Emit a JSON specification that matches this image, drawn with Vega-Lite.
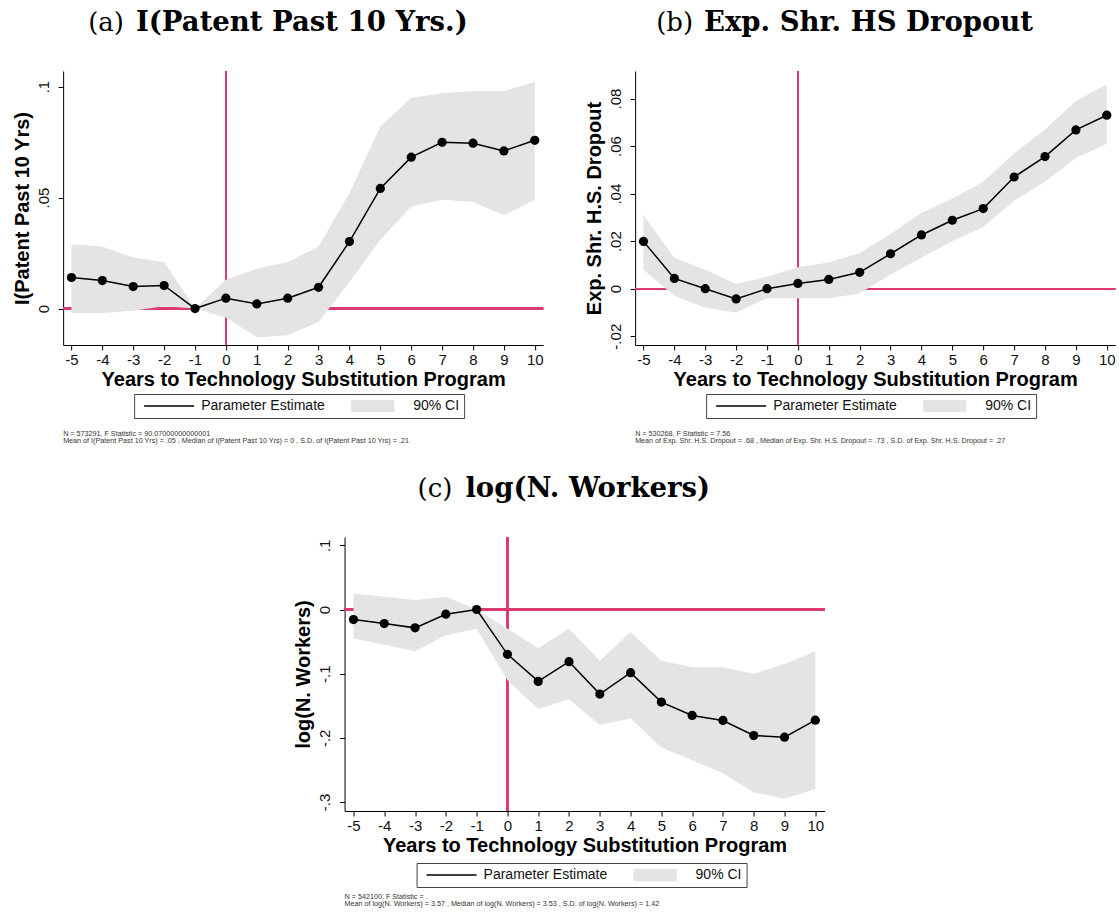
{
  "$schema": "https://vega.github.io/schema/vega-lite/v6.json",
  "padding": {"left": 12, "top": 8, "right": 0, "bottom": 0},
  "background": "white",
  "config": {
    "view": {"stroke": null},
    "font": "Liberation Sans",
    "axis": {"grid": false, "domainColor": "#000", "tickColor": "#000", "tickSize": 5, "domainWidth": 1, "tickWidth": 1, "labelFont": "Liberation Sans", "labelFontSize": 15, "labelColor": "#111", "titleFont": "Liberation Sans", "titleFontSize": 20, "titleFontWeight": "bold", "titleColor": "#000", "labelFlush": false, "labelOverlap": false},
    "axisX": {"labelPadding": 2, "titlePadding": 2, "labelAngle": 0, "tickCount": 20},
    "axisY": {"labelAngle": -90, "labelAlign": "center", "labelBaseline": "alphabetic", "labelPadding": 10, "titlePadding": 4}
  },
  "resolve": {"scale": {"color": "independent"}},
  "spacing": 29,
  "center": true,
  "vconcat": [
    {
      "resolve": {"scale": {"color": "independent"}},
      "spacing": 40,
      "hconcat": [
        {
          "resolve": {"scale": {"color": "independent"}},
          "title": {"text": "(a)", "subtitle": "\u200b\u00a0\u00a0\u00a0\u00a0\u00a0I(Patent Past 10 Yrs.)", "anchor": "start", "frame": "bounds", "align": "left", "dx": 76, "font": "DejaVu Serif", "fontSize": 26, "fontWeight": "normal", "color": "#000", "subtitleFont": "DejaVu Serif", "subtitleFontSize": 27.5, "subtitleFontWeight": "bold", "subtitleColor": "#000", "subtitlePadding": -27.2, "offset": 33},
          "vconcat": [
            {
              "width": 480, "height": 274,
              "data": {"values": [
                {"t": -5, "b": 0.014, "lo": -0.002, "hi": 0.029},
                {"t": -4, "b": 0.0126, "lo": -0.002, "hi": 0.028},
                {"t": -3, "b": 0.0099, "lo": -0.001, "hi": 0.023},
                {"t": -2, "b": 0.0104, "lo": 0.001, "hi": 0.021},
                {"t": -1, "b": 0.0, "lo": 0.0, "hi": 0.0},
                {"t": 0, "b": 0.0047, "lo": -0.004, "hi": 0.013},
                {"t": 1, "b": 0.0021, "lo": -0.013, "hi": 0.018},
                {"t": 2, "b": 0.0047, "lo": -0.012, "hi": 0.021},
                {"t": 3, "b": 0.0096, "lo": -0.006, "hi": 0.028},
                {"t": 4, "b": 0.0302, "lo": 0.012, "hi": 0.052},
                {"t": 5, "b": 0.0541, "lo": 0.031, "hi": 0.082},
                {"t": 6, "b": 0.0682, "lo": 0.046, "hi": 0.095},
                {"t": 7, "b": 0.0749, "lo": 0.049, "hi": 0.097},
                {"t": 8, "b": 0.0745, "lo": 0.048, "hi": 0.098},
                {"t": 9, "b": 0.0710, "lo": 0.042, "hi": 0.098},
                {"t": 10, "b": 0.0758, "lo": 0.049, "hi": 0.102}
              ]},
              "title": {"text": ["N = 573291, F Statistic = 90.07000000000001", "Mean of I(Patent Past 10 Yrs) = .05 , Median of I(Patent Past 10 Yrs) = 0 , S.D. of I(Patent Past 10 Yrs) = .21"], "orient": "bottom", "anchor": "start", "frame": "group", "align": "left", "font": "Liberation Sans", "fontSize": 7.2, "fontWeight": "normal", "color": "#333", "lineHeight": 7.5, "offset": 11},
              "layer": [
                {"mark": {"type": "rule", "color": "#dc3a70", "strokeWidth": 1.5}, "encoding": {"x": {"datum": 0, "type": "quantitative"}}},
                {"mark": {"type": "rule", "color": "#dc3a70", "strokeWidth": 1.5}, "encoding": {"y": {"datum": 0, "type": "quantitative"}}},
                {"mark": {"type": "area", "opacity": 1},
                 "encoding": {
                   "x": {"field": "t", "type": "quantitative", "scale": {"domain": [-5.27, 10.27], "nice": false, "zero": false}, "axis": {"title": "Years to Technology Substitution Program", "values": [-5,-4,-3,-2,-1,0,1,2,3,4,5,6,7,8,9,10], "tickCount": 20, "labelOverlap": false, "labelFlush": false, "labelExpr": "(datum.value < 0 ? '-' : '') + abs(datum.value)"}},
                   "y": {"field": "lo", "type": "quantitative", "scale": {"domain": [-0.0164, 0.107], "nice": false, "zero": false}, "axis": {"title": "I(Patent Past 10 Yrs)", "values": [0, 0.05, 0.1], "labelOverlap": false, "labelFlush": false, "labelExpr": "datum.value == 0 ? '0' : (datum.value < 0 ? '-' : '') + replace(format(abs(datum.value), '.2~f'), '0.', '.')"}},
                   "y2": {"field": "hi"},
                   "color": {"datum": "90% CI", "type": "nominal", "scale": {"domain": ["Parameter Estimate", "90% CI"], "range": ["#000000", "#e4e4e4"]}}
                 }},
                {"mark": {"type": "line", "strokeWidth": 1.5},
                 "encoding": {
                   "x": {"field": "t", "type": "quantitative"},
                   "y": {"field": "b", "type": "quantitative"},
                   "color": {"datum": "Parameter Estimate", "type": "nominal", "legend": {"orient": "none", "legendX": 71, "legendY": 323, "direction": "horizontal", "title": null, "strokeColor": "#444", "padding": 5, "columnPadding": 26, "clipHeight": 14, "labelFont": "Liberation Sans", "labelFontSize": 14, "labelColor": "#111", "labelOffset": 6, "labelLimit": 300, "symbolOffset": 4,
                     "encode": {"symbols": {"update": {"size": {"value": 2500}, "shape": {"signal": "datum.value === '90% CI' ? 'M-1.42,-0.22H0.5V0.22H-1.42Z' : 'M-1,0H1'"}, "fill": {"signal": "datum.value === '90% CI' ? '#e4e4e4' : 'transparent'"}, "stroke": {"signal": "datum.value === '90% CI' ? 'transparent' : '#000'"}, "strokeWidth": {"value": 1.5}, "opacity": {"value": 1}}}}}}
                 }},
                {"mark": {"type": "point", "filled": true, "color": "#000", "size": 85, "opacity": 1},
                 "encoding": {
                   "x": {"field": "t", "type": "quantitative"},
                   "y": {"field": "b", "type": "quantitative"}
                 }}
              ]
            }
          ]
        },
        {
          "resolve": {"scale": {"color": "independent"}},
          "title": {"text": "(b)", "subtitle": "\u200b\u00a0\u00a0\u00a0\u00a0\u00a0Exp. Shr. HS Dropout", "anchor": "start", "frame": "bounds", "align": "left", "dx": 72, "font": "DejaVu Serif", "fontSize": 26, "fontWeight": "normal", "color": "#000", "subtitleFont": "DejaVu Serif", "subtitleFontSize": 27.5, "subtitleFontWeight": "bold", "subtitleColor": "#000", "subtitlePadding": -27.2, "offset": 33},
          "vconcat": [
            {
              "width": 480, "height": 274,
              "data": {"values": [
                {"t": -5, "b": 0.0199, "lo": 0.008, "hi": 0.031},
                {"t": -4, "b": 0.0043, "lo": -0.003, "hi": 0.013},
                {"t": -3, "b": 0.0, "lo": -0.008, "hi": 0.008},
                {"t": -2, "b": -0.0043, "lo": -0.010, "hi": 0.002},
                {"t": -1, "b": 0.0, "lo": -0.004, "hi": 0.005},
                {"t": 0, "b": 0.0022, "lo": -0.004, "hi": 0.009},
                {"t": 1, "b": 0.0039, "lo": -0.004, "hi": 0.011},
                {"t": 2, "b": 0.0069, "lo": -0.002, "hi": 0.015},
                {"t": 3, "b": 0.0147, "lo": 0.006, "hi": 0.023},
                {"t": 4, "b": 0.0226, "lo": 0.013, "hi": 0.032},
                {"t": 5, "b": 0.0288, "lo": 0.020, "hi": 0.038},
                {"t": 6, "b": 0.0337, "lo": 0.026, "hi": 0.045},
                {"t": 7, "b": 0.0470, "lo": 0.037, "hi": 0.057},
                {"t": 8, "b": 0.0556, "lo": 0.045, "hi": 0.067},
                {"t": 9, "b": 0.0668, "lo": 0.055, "hi": 0.079},
                {"t": 10, "b": 0.0730, "lo": 0.061, "hi": 0.086}
              ]},
              "title": {"text": ["N = 530268, F Statistic = 7.56", "Mean of Exp. Shr. H.S. Dropout = .68 , Median of Exp. Shr. H.S. Dropout = .73 , S.D. of Exp. Shr. H.S. Dropout = .27"], "orient": "bottom", "anchor": "start", "frame": "group", "align": "left", "font": "Liberation Sans", "fontSize": 7.2, "fontWeight": "normal", "color": "#333", "lineHeight": 7.5, "offset": 11},
              "layer": [
                {"mark": {"type": "rule", "color": "#dc3a70", "strokeWidth": 1.5}, "encoding": {"x": {"datum": 0, "type": "quantitative"}}},
                {"mark": {"type": "rule", "color": "#dc3a70", "strokeWidth": 1.5}, "encoding": {"y": {"datum": 0, "type": "quantitative"}}},
                {"mark": {"type": "area", "opacity": 1},
                 "encoding": {
                   "x": {"field": "t", "type": "quantitative", "scale": {"domain": [-5.27, 10.27], "nice": false, "zero": false}, "axis": {"title": "Years to Technology Substitution Program", "values": [-5,-4,-3,-2,-1,0,1,2,3,4,5,6,7,8,9,10], "tickCount": 20, "labelOverlap": false, "labelFlush": false, "labelExpr": "(datum.value < 0 ? '-' : '') + abs(datum.value)"}},
                   "y": {"field": "lo", "type": "quantitative", "scale": {"domain": [-0.0237, 0.0916], "nice": false, "zero": false}, "axis": {"title": "Exp. Shr. H.S. Dropout", "values": [-0.02, 0, 0.02, 0.04, 0.06, 0.08], "labelOverlap": false, "labelFlush": false, "labelExpr": "datum.value == 0 ? '0' : (datum.value < 0 ? '-' : '') + replace(format(abs(datum.value), '.2~f'), '0.', '.')"}},
                   "y2": {"field": "hi"},
                   "color": {"datum": "90% CI", "type": "nominal", "scale": {"domain": ["Parameter Estimate", "90% CI"], "range": ["#000000", "#e4e4e4"]}}
                 }},
                {"mark": {"type": "line", "strokeWidth": 1.5},
                 "encoding": {
                   "x": {"field": "t", "type": "quantitative"},
                   "y": {"field": "b", "type": "quantitative"},
                   "color": {"datum": "Parameter Estimate", "type": "nominal", "legend": {"orient": "none", "legendX": 71, "legendY": 323, "direction": "horizontal", "title": null, "strokeColor": "#444", "padding": 5, "columnPadding": 26, "clipHeight": 14, "labelFont": "Liberation Sans", "labelFontSize": 14, "labelColor": "#111", "labelOffset": 6, "labelLimit": 300, "symbolOffset": 4,
                     "encode": {"symbols": {"update": {"size": {"value": 2500}, "shape": {"signal": "datum.value === '90% CI' ? 'M-1.42,-0.22H0.5V0.22H-1.42Z' : 'M-1,0H1'"}, "fill": {"signal": "datum.value === '90% CI' ? '#e4e4e4' : 'transparent'"}, "stroke": {"signal": "datum.value === '90% CI' ? 'transparent' : '#000'"}, "strokeWidth": {"value": 1.5}, "opacity": {"value": 1}}}}}}
                 }},
                {"mark": {"type": "point", "filled": true, "color": "#000", "size": 85, "opacity": 1},
                 "encoding": {
                   "x": {"field": "t", "type": "quantitative"},
                   "y": {"field": "b", "type": "quantitative"}
                 }}
              ]
            }
          ]
        }
      ]
    },
    {
      "resolve": {"scale": {"color": "independent"}},
      "title": {"text": "(c)", "subtitle": "\u200b\u00a0\u00a0\u00a0\u00a0\u00a0log(N. Workers)\u00a0\u00a0\u00a0\u00a0\u00a0\u00a0\u00a0\u00a0\u00a0\u00a0\u00a0\u00a0\u00a0\u200b", "anchor": "start", "frame": "bounds", "align": "left", "dx": 124, "font": "DejaVu Serif", "fontSize": 26, "fontWeight": "normal", "color": "#000", "subtitleFont": "DejaVu Serif", "subtitleFontSize": 27.5, "subtitleFontWeight": "bold", "subtitleColor": "#000", "subtitlePadding": -27.2, "offset": 33},
      "vconcat": [
        {
          "width": 480, "height": 274,
          "data": {"values": [
            {"t": -5, "b": -0.0156, "lo": -0.045, "hi": 0.025},
            {"t": -4, "b": -0.0219, "lo": -0.055, "hi": 0.020},
            {"t": -3, "b": -0.0286, "lo": -0.065, "hi": 0.015},
            {"t": -2, "b": -0.0073, "lo": -0.040, "hi": 0.020},
            {"t": -1, "b": 0.0, "lo": -0.030, "hi": 0.0},
            {"t": 0, "b": -0.0698, "lo": -0.110, "hi": -0.030},
            {"t": 1, "b": -0.112, "lo": -0.155, "hi": -0.060},
            {"t": 2, "b": -0.0813, "lo": -0.140, "hi": -0.030},
            {"t": 3, "b": -0.1318, "lo": -0.180, "hi": -0.080},
            {"t": 4, "b": -0.0984, "lo": -0.170, "hi": -0.035},
            {"t": 5, "b": -0.1443, "lo": -0.215, "hi": -0.080},
            {"t": 6, "b": -0.1651, "lo": -0.235, "hi": -0.090},
            {"t": 7, "b": -0.1729, "lo": -0.255, "hi": -0.090},
            {"t": 8, "b": -0.1964, "lo": -0.285, "hi": -0.100},
            {"t": 9, "b": -0.1990, "lo": -0.295, "hi": -0.085},
            {"t": 10, "b": -0.1724, "lo": -0.280, "hi": -0.065}
          ]},
          "title": {"text": ["N = 542100, F Statistic = .", "Mean of log(N. Workers) = 3.57 , Median of log(N. Workers) = 3.53 , S.D. of log(N. Workers) = 1.42"], "orient": "bottom", "anchor": "start", "frame": "group", "align": "left", "font": "Liberation Sans", "fontSize": 7.2, "fontWeight": "normal", "color": "#333", "lineHeight": 7.5, "offset": 5},
          "layer": [
            {"mark": {"type": "rule", "color": "#dc3a70", "strokeWidth": 1.5}, "encoding": {"x": {"datum": 0, "type": "quantitative"}}},
            {"mark": {"type": "rule", "color": "#dc3a70", "strokeWidth": 1.5}, "encoding": {"y": {"datum": 0, "type": "quantitative"}}},
            {"mark": {"type": "area", "opacity": 1},
             "encoding": {
               "x": {"field": "t", "type": "quantitative", "scale": {"domain": [-5.29, 10.3], "nice": false, "zero": false}, "axis": {"title": "Years to Technology Substitution Program", "values": [-5,-4,-3,-2,-1,0,1,2,3,4,5,6,7,8,9,10], "tickCount": 20, "labelOverlap": false, "labelFlush": false, "labelExpr": "(datum.value < 0 ? '-' : '') + abs(datum.value)"}},
               "y": {"field": "lo", "type": "quantitative", "scale": {"domain": [-0.314, 0.113], "nice": false, "zero": false}, "axis": {"title": "log(N. Workers)", "values": [-0.3, -0.2, -0.1, 0, 0.1], "labelOverlap": false, "labelFlush": false, "labelExpr": "datum.value == 0 ? '0' : (datum.value < 0 ? '-' : '') + replace(format(abs(datum.value), '.2~f'), '0.', '.')"}},
               "y2": {"field": "hi"},
               "color": {"datum": "90% CI", "type": "nominal", "scale": {"domain": ["Parameter Estimate", "90% CI"], "range": ["#000000", "#e4e4e4"]}}
             }},
            {"mark": {"type": "line", "strokeWidth": 1.5},
             "encoding": {
               "x": {"field": "t", "type": "quantitative"},
               "y": {"field": "b", "type": "quantitative"},
               "color": {"datum": "Parameter Estimate", "type": "nominal", "legend": {"orient": "none", "legendX": 72, "legendY": 326, "direction": "horizontal", "title": null, "strokeColor": "#444", "padding": 5, "columnPadding": 26, "clipHeight": 14, "labelFont": "Liberation Sans", "labelFontSize": 14, "labelColor": "#111", "labelOffset": 6, "labelLimit": 300, "symbolOffset": 4,
                 "encode": {"symbols": {"update": {"size": {"value": 2500}, "shape": {"signal": "datum.value === '90% CI' ? 'M-1.42,-0.22H0.5V0.22H-1.42Z' : 'M-1,0H1'"}, "fill": {"signal": "datum.value === '90% CI' ? '#e4e4e4' : 'transparent'"}, "stroke": {"signal": "datum.value === '90% CI' ? 'transparent' : '#000'"}, "strokeWidth": {"value": 1.5}, "opacity": {"value": 1}}}}}}
             }},
            {"mark": {"type": "point", "filled": true, "color": "#000", "size": 85, "opacity": 1},
             "encoding": {
               "x": {"field": "t", "type": "quantitative"},
               "y": {"field": "b", "type": "quantitative"}
             }}
          ]
        }
      ]
    }
  ]
}
